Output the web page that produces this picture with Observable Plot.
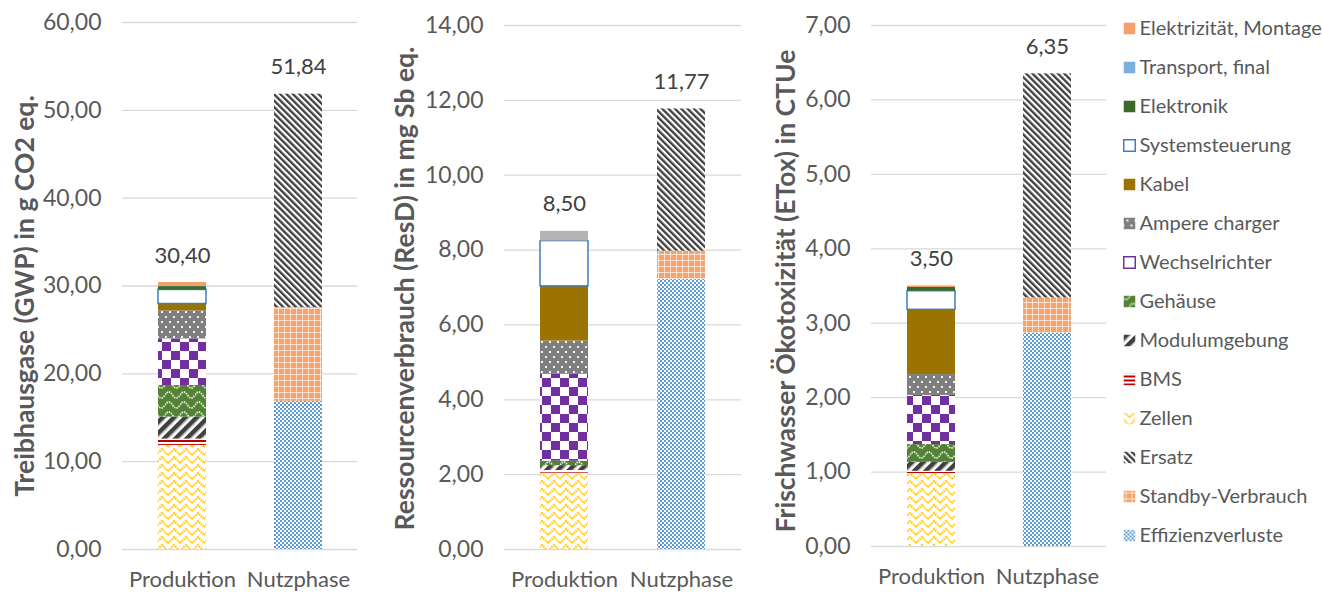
<!DOCTYPE html>
<html><head><meta charset="utf-8">
<script src="https://cdn.jsdelivr.net/npm/d3@7"></script>
<script src="https://cdn.jsdelivr.net/npm/@observablehq/plot@0.6"></script>
<style>
body{margin:0;background:#fff;}
#wrap{position:relative;width:1322px;height:592px;overflow:hidden;font-family:Lato,sans-serif;}
#wrap > svg{position:absolute;top:0;}
</style></head><body>
<svg width="0" height="0" style="position:absolute">
<defs>
 <pattern id="p-eff" width="4" height="4" patternUnits="userSpaceOnUse">
  <rect width="4" height="4" fill="#fff"/>
  <rect width="2" height="2" fill="#5B9BD5"/>
  <rect x="2" y="2" width="2" height="2" fill="#5B9BD5"/>
 </pattern>
 <pattern id="p-standby" width="6" height="6" patternUnits="userSpaceOnUse">
  <rect width="6" height="6" fill="#F4A46C"/>
  <rect x="0" y="2" width="6" height="1" fill="#fff" opacity="0.65"/>
  <rect x="2" y="0" width="1" height="6" fill="#fff" opacity="0.65"/>
 </pattern>
 <pattern id="p-ersatz" width="4.5" height="4.5" patternUnits="userSpaceOnUse" patternTransform="rotate(-45)">
  <rect width="4.5" height="4.5" fill="#fff"/>
  <rect width="1.8" height="4.5" fill="#404040"/>
  <rect x="1.8" width="0.9" height="4.5" fill="#909090"/>
 </pattern>
 <pattern id="p-zel" width="12" height="8" patternUnits="userSpaceOnUse">
  <rect width="12" height="8" fill="#fff"/>
  <path d="M0,7 L6,1 L12,7" fill="none" stroke="#FFC000" stroke-width="2" stroke-dasharray="1.5 1"/>
 </pattern>
 <pattern id="p-bms" width="4" height="4" patternUnits="userSpaceOnUse">
  <rect width="4" height="4" fill="#fff"/>
  <rect width="4" height="2" fill="#C00000"/>
 </pattern>
 <pattern id="p-mod" width="8" height="8" patternUnits="userSpaceOnUse" patternTransform="rotate(45)">
  <rect width="8" height="8" fill="#fff"/>
  <rect width="4.5" height="8" fill="#404040"/>
  <rect x="4.5" width="0.8" height="8" fill="#999"/>
 </pattern>
 <pattern id="p-geh" width="15" height="10" patternUnits="userSpaceOnUse">
  <rect width="15" height="10" fill="#548235"/>
  <path d="M0,5 C2.5,1 5,1 7.5,5 S12.5,9 15,5" fill="none" stroke="#fff" stroke-width="1.8" stroke-dasharray="1.5 1" opacity="0.85"/>
 </pattern>
 <pattern id="p-wr" width="18" height="18" patternUnits="userSpaceOnUse">
  <rect width="18" height="18" fill="#fff"/>
  <rect width="9" height="9" fill="#7030A0"/>
  <rect x="9" y="9" width="9" height="9" fill="#7030A0"/>
 </pattern>
 <pattern id="p-amp" width="8" height="10" patternUnits="userSpaceOnUse">
  <rect width="8" height="10" fill="#7F7F7F"/>
  <rect x="1" y="1" width="2" height="2" fill="#fff" opacity="0.9"/>
  <rect x="5" y="6" width="2" height="2" fill="#fff" opacity="0.9"/>
 </pattern>
</defs></svg>
<div id="wrap"></div>
<script>
// ---------- data ----------
const phases = ["Produktion", "Nutzphase"];
// stack order, bottom to top
const series = ["Effizienzverluste", "Standby-Verbrauch", "Ersatz", "Zellen", "BMS", "Modulumgebung",
  "Gehäuse", "Wechselrichter", "Ampere charger", "Kabel", "Systemsteuerung", "Elektronik",
  "Transport, final", "Elektrizität, Montage"];

const gwpProduktion  = [0, 0, 0, 11.85, 0.72, 2.50, 3.60, 5.30, 3.20, 0.78, 1.60, 0.38, 0.10, 0.37];
const gwpNutzphase   = [16.86, 10.67, 24.31, 0, 0, 0, 0, 0, 0, 0, 0, 0, 0, 0];
const gwpTotals      = [30.40, 51.84];
const gwpTicks       = [0, 10, 20, 30, 40, 50, 60];

const resdProduktion = [0, 0, 0, 2.04, 0.07, 0.13, 0.12, 2.32, 0.89, 1.46, 1.21, 0, 0, 0.26];
const resdNutzphase  = [7.21, 0.76, 3.80, 0, 0, 0, 0, 0, 0, 0, 0, 0, 0, 0];
const resdTotals     = [8.50, 11.77];
const resdTicks      = [0, 2, 4, 6, 8, 10, 12, 14];

const etoxProduktion = [0, 0, 0, 0.98, 0.03, 0.12, 0.24, 0.66, 0.28, 0.87, 0.25, 0.05, 0, 0.02];
const etoxNutzphase  = [2.87, 0.47, 3.01, 0, 0, 0, 0, 0, 0, 0, 0, 0, 0, 0];
const etoxTotals     = [3.50, 6.35];
const etoxTicks      = [0, 1, 2, 3, 4, 5, 6, 7];

const titles = ["Treibhausgase (GWP) in g CO2 eq.", "Ressourcenverbrauch (ResD) in mg Sb eq.",
  "Frischwasser Ökotoxizität (ETox) in CTUe"];

// ---------- styles ----------
const fills = {
  "Effizienzverluste": "url(#p-eff)", "Standby-Verbrauch": "url(#p-standby)", "Ersatz": "url(#p-ersatz)",
  "Zellen": "url(#p-zel)", "BMS": "url(#p-bms)", "Modulumgebung": "url(#p-mod)", "Gehäuse": "url(#p-geh)",
  "Wechselrichter": "url(#p-wr)", "Ampere charger": "url(#p-amp)", "Kabel": "#9A7300",
  "Systemsteuerung": "#ffffff", "Elektronik": "#3B6B2A", "Transport, final": "#7CAFDD",
  "Elektrizität, Montage": "#F3A06B"
};
const fmt = v => v.toFixed(2).replace(".", ",");
const wrap = document.getElementById("wrap");

const panels = [
  {key: "gwp", prod: gwpProduktion, nutz: gwpNutzphase, totals: gwpTotals, ticks: gwpTicks, title: titles[0],
   left: 0, width: 370, mL: 122, mR: 13, mT: 22, mB: 43, tDx: -97, tDy: 10},
  {key: "resd", prod: resdProduktion, nutz: resdNutzphase, totals: resdTotals, ticks: resdTicks, title: titles[1],
   left: 380, width: 370, mL: 124, mR: 9, mT: 25, mB: 43, tDx: -99, tDy: 1},
  {key: "etox", prod: etoxProduktion, nutz: etoxNutzphase, totals: etoxTotals, ticks: etoxTicks, title: titles[2],
   left: 760, width: 360, mL: 111, mR: 14, mT: 25, mB: 46, tDx: -85, tDy: 5}
];

for (const cfg of panels) {
  const data = [];
  [cfg.prod, cfg.nutz].forEach((vals, pi) => {
    series.forEach((s, si) => { if (vals[si] > 0) data.push({phase: phases[pi], series: s, value: vals[si]}); });
  });
  const totals = phases.map((p, i) => ({phase: p, total: cfg.totals[i]}));
  const fillOf = d => (cfg.key === "resd" && d.series === "Elektrizität, Montage") ? "#B4B4B4" : fills[d.series];
  const svg = Plot.plot({
    width: cfg.width, height: 592,
    marginLeft: cfg.mL, marginRight: cfg.mR, marginTop: cfg.mT, marginBottom: cfg.mB,
    style: {fontFamily: "Lato, sans-serif", background: "transparent", overflow: "visible"},
    x: {domain: phases, paddingInner: 0.59, paddingOuter: 0.3},
    y: {domain: [0, cfg.ticks[cfg.ticks.length - 1]]},
    color: {type: "identity"},
    marks: [
      Plot.ruleY(cfg.ticks, {stroke: "#d9d9d9", strokeWidth: 1.3}),
      Plot.barY(data, {x: "phase", y: "value", fill: fillOf,
        stroke: d => d.series === "Systemsteuerung" ? "#3F7DC1" : "none", strokeWidth: 1.5}),
      Plot.axisY(cfg.ticks, {tickSize: 0, tickPadding: 21, tickFormat: fmt, fontSize: 23, fill: "#595959", label: null}),
      Plot.axisX({tickSize: 0, tickPadding: 22, fontSize: 22, fill: "#595959", label: null}),
      Plot.text(totals, {x: "phase", y: "total", text: d => fmt(d.total), dy: -27, fontSize: 22, fill: "#404040"}),
      Plot.text([cfg.title], {frameAnchor: "left", textAnchor: "middle", rotate: -90, dx: cfg.tDx, dy: cfg.tDy,
        fontWeight: "bold", fontSize: 26.5, fill: "#595959"})
    ]
  });
  svg.style.left = cfg.left + "px";
  wrap.appendChild(svg);
}

// ---------- legend ----------
const legendOrder = series.slice().reverse();
const legendFill = s => s === "Wechselrichter" ? "#ffffff" : fills[s];
const legendStroke = s => s === "Systemsteuerung" ? "#3F7DC1" : s === "Wechselrichter" ? "#7030A0" : "none";
const legend = Plot.plot({
  width: 202, height: 592, margin: 0,
  style: {fontFamily: "Lato, sans-serif", background: "transparent", overflow: "visible"},
  x: {domain: [0, 1], range: [9, 19], axis: null},
  y: {type: "point", domain: legendOrder, range: [23, 540], padding: 0, axis: null},
  color: {type: "identity"},
  marks: [
    Plot.dot(legendOrder, {x: () => 0, y: d => d, symbol: "square", r: 6.5, fill: legendFill, stroke: legendStroke, strokeWidth: 1.5}),
    Plot.text(legendOrder, {x: () => 1, y: d => d, text: d => d, textAnchor: "start", fontSize: 20, fill: "#595959"})
  ]
});
legend.style.left = "1120px";
wrap.appendChild(legend);
</script>
</body></html>
